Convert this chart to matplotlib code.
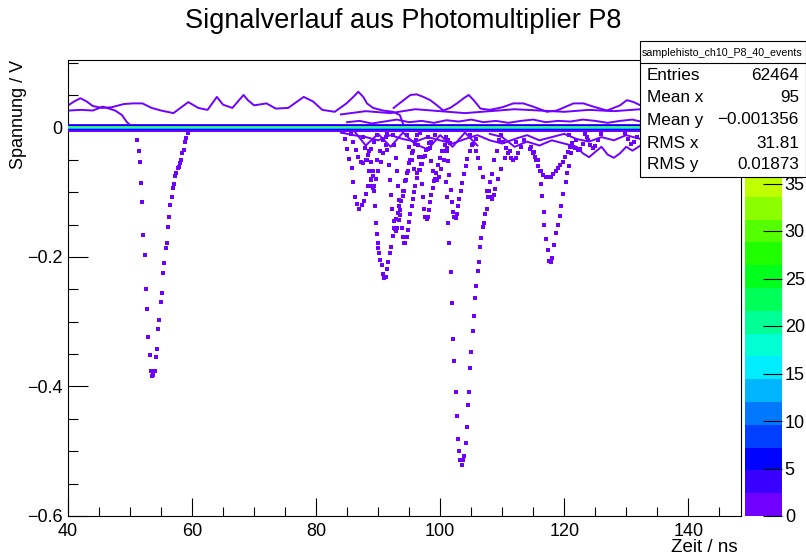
import matplotlib
matplotlib.use("Agg")
import matplotlib.pyplot as plt
import numpy as np
from matplotlib.colors import LinearSegmentedColormap, ListedColormap, BoundaryNorm
from matplotlib.patches import Rectangle
from matplotlib.lines import Line2D
import matplotlib.cm as cm

plt.rcParams['font.family'] = ['Liberation Sans', 'DejaVu Sans']

# ---------------- data ----------------
title = "Signalverlauf aus Photomultiplier P8"
x_label = "Zeit / ns"
y_label = "Spannung / V"
x_range = (40.0, 148.5)
y_range = (-0.6, 0.104)
x_major = [40, 60, 80, 100, 120, 140]
x_major_labels = ["40", "60", "80", "100", "120", "140"]
y_major = [-0.6, -0.4, -0.2, 0.0]
y_major_labels = ["\u22120.6", "\u22120.4", "\u22120.2", "0"]
z_max = 48.0
n_levels = 20
z_ticks = [0, 5, 10, 15, 20, 25, 30, 35]

stats_name = "samplehisto_ch10_P8_40_events"
stats_keys = ["Entries", "Mean x", "Mean y", "RMS x", "RMS y"]
stats_vals = ["62464", "95", "\u22120.001356", "31.81", "0.01873"]

# baseline band (counts per voltage bin, bottom -> top)
baseline_edges = [-0.0064, -0.0048, -0.0032, -0.0016, 0.0, 0.0016, 0.0032, 0.0048]
baseline_counts = [2, 6, 12, 30, 15, 6, 2]

# positive wiggles (single-event traces)
u0_t = [40.2, 42.0, 44.0, 45.6, 47.6, 48.7, 49.5, 50.2]
u0_v = [0.026, 0.027, 0.026, 0.032, 0.026, 0.019, 0.008, 0.002]

u1_t = [40.2, 41.0, 42.0, 43.0, 44.0, 45.5, 47.0, 49.0, 50.5, 52.0, 53.5, 55.0, 57.0,
        59.4, 61.0, 62.5, 64.0, 65.0, 66.5, 68.3, 69.0, 70.0, 72.0, 73.5, 75.5, 78.0,
        79.5, 81.0, 83.0, 84.9, 86.0, 86.8, 87.6, 88.2, 89.2, 90.8, 92.4, 93.5, 94.0]
u1_v = [0.035, 0.040, 0.045, 0.040, 0.033, 0.030, 0.031, 0.036, 0.037, 0.037, 0.030,
        0.026, 0.022, 0.039, 0.030, 0.027, 0.047, 0.035, 0.030, 0.050, 0.042, 0.034,
        0.037, 0.029, 0.030, 0.047, 0.040, 0.027, 0.024, 0.037, 0.047, 0.055, 0.047,
        0.037, 0.030, 0.026, 0.024, 0.019, 0.006]

u3_t = [92.5, 94.1, 95.2, 96.2, 97.3, 98.4, 99.5, 100.5, 101.6, 102.7, 103.8, 104.6,
        105.4, 106.5, 108.0, 110.0, 111.8, 113.4, 115.0, 117.2, 118.8, 121.5, 123.1,
        124.7, 126.9, 129.0, 130.1, 131.2, 132.3]
u3_v = [0.030, 0.042, 0.050, 0.051, 0.047, 0.042, 0.034, 0.026, 0.030, 0.037, 0.045,
        0.050, 0.042, 0.029, 0.027, 0.031, 0.037, 0.037, 0.032, 0.024, 0.026, 0.037,
        0.037, 0.032, 0.026, 0.034, 0.042, 0.039, 0.034]

u2_t = [84.0, 88.0, 92.0, 96.0, 100.0, 104.0, 108.0, 112.0, 116.0, 120.0, 124.0, 128.0, 132.3]
u2_v = [0.020, 0.025, 0.022, 0.028, 0.025, 0.022, 0.025, 0.028, 0.026, 0.024, 0.027, 0.025, 0.028]

# near-baseline clutter traces
n1_t = [84, 86, 88, 90, 92, 94, 96, 98, 100, 102, 104, 106, 108, 110, 112, 114, 116,
        118, 120, 122, 124, 126, 128, 130, 132.3]
n1_v = [-0.008, -0.012, -0.015, -0.020, -0.012, -0.018, -0.022, -0.015, -0.020,
        -0.025, -0.018, -0.012, -0.020, -0.025, -0.018, -0.012, -0.020, -0.015,
        -0.010, -0.018, -0.022, -0.015, -0.020, -0.012, -0.018]
n2_t = [85, 87, 89, 91, 93, 95, 97, 99, 101, 103, 105, 107, 109, 111, 113, 115, 117,
        119, 121, 123, 125, 127, 129, 131, 132.3]
n2_v = [0.008, 0.010, 0.006, 0.009, 0.012, 0.008, 0.010, 0.007, 0.011, 0.009, 0.012,
        0.008, 0.010, 0.007, 0.010, 0.012, 0.008, 0.010, 0.009, 0.012, 0.010, 0.007,
        0.010, 0.012, 0.009]
n3_t = [108, 110, 112, 114, 116, 118, 120, 122, 123, 124, 125, 126, 127, 128, 129, 130, 131, 132.3]
n3_v = [-0.010, -0.015, -0.030, -0.022, -0.028, -0.020, -0.025, -0.030, -0.040, -0.046,
        -0.038, -0.030, -0.042, -0.047, -0.040, -0.030, -0.036, -0.028]
n4_t = [86, 88, 90, 92, 94, 96, 98, 100, 102, 104, 106]
n4_v = [-0.004, -0.028, -0.010, -0.030, -0.008, -0.026, -0.034, -0.012, -0.030, -0.008, -0.028]

# pulses (one dot per occupied bin)
pa_t = [50.81, 51.18, 51.40, 51.61, 51.77, 51.98, 52.15, 52.37, 52.58, 52.79, 52.95,
        53.18, 53.34, 53.55, 53.71, 53.98, 54.15, 54.35, 54.52, 54.73, 54.95, 55.11,
        55.32, 55.53, 55.76, 55.92, 56.13, 56.29, 56.50, 56.73, 56.89, 57.10, 57.31,
        57.47, 57.69, 57.85, 58.06, 58.23, 58.44, 58.66, 58.87, 59.08, 59.35]
pa_v = [-0.003, -0.019, -0.037, -0.053, -0.086, -0.116, -0.166, -0.197, -0.249,
        -0.281, -0.323, -0.352, -0.376, -0.384, -0.382, -0.376, -0.354, -0.342,
        -0.311, -0.298, -0.269, -0.255, -0.225, -0.210, -0.186, -0.178, -0.154,
        -0.138, -0.120, -0.108, -0.093, -0.088, -0.075, -0.071, -0.063, -0.061,
        -0.055, -0.051, -0.039, -0.035, -0.023, -0.016, -0.008]

pb_t = [100.65, 100.97, 101.08, 101.34, 101.50, 101.73, 101.94, 102.10, 102.31, 102.53,
        102.74, 102.90, 103.11, 103.27, 103.50, 103.71, 103.92, 104.15, 104.31, 104.52,
        104.68, 104.89, 105.05, 105.27, 105.48, 105.69, 105.85, 106.08, 106.29, 106.50,
        106.66, 106.89, 107.10, 107.26, 107.47, 107.69, 107.85, 108.10, 108.34, 108.71,
        109.15, 109.56]
pb_v = [-0.036, -0.084, -0.107, -0.148, -0.178, -0.224, -0.271, -0.326, -0.360, -0.409,
        -0.445, -0.481, -0.499, -0.513, -0.522, -0.513, -0.507, -0.487, -0.462, -0.429,
        -0.409, -0.372, -0.347, -0.314, -0.291, -0.263, -0.245, -0.221, -0.208, -0.185,
        -0.171, -0.154, -0.148, -0.134, -0.126, -0.108, -0.098, -0.085, -0.072, -0.051,
        -0.036, -0.020]

pc_t = [114.52, 115.05, 115.32, 115.76, 116.02, 116.29, 116.40, 116.66, 116.82, 117.10,
        117.31, 117.53, 117.79, 118.11, 118.39, 118.71, 118.92, 119.24, 119.52, 119.84,
        120.21, 120.44, 120.76, 121.08, 121.40, 121.94]
pc_v = [-0.033, -0.038, -0.045, -0.051, -0.067, -0.088, -0.106, -0.130, -0.150, -0.172,
        -0.190, -0.206, -0.208, -0.202, -0.182, -0.163, -0.150, -0.137, -0.122, -0.103,
        -0.085, -0.071, -0.059, -0.040, -0.031, -0.020]

d1_t = [84.40, 84.68, 85.05, 85.37, 85.76, 85.92, 86.29, 86.56, 86.98, 87.37, 87.74,
        88.06, 88.44, 88.82, 89.24, 89.79, 90.32, 90.85, 91.40]
d1_v = [-0.007, -0.018, -0.033, -0.049, -0.062, -0.085, -0.108, -0.119, -0.126, -0.120,
        -0.114, -0.103, -0.090, -0.080, -0.067, -0.051, -0.036, -0.020, -0.010]

d2_t = [88.55, 88.87, 89.11, 89.35, 89.52, 89.63, 89.79, 89.95, 90.05, 90.21, 90.32,
        90.60, 90.76, 90.97, 91.29, 91.50, 91.66, 91.94, 92.10, 92.37, 92.63, 92.90,
        93.18, 93.44, 93.71, 93.98, 94.19, 94.52, 94.84, 95.16, 95.65, 96.13, 96.77]
d2_v = [-0.036, -0.054, -0.075, -0.098, -0.121, -0.147, -0.165, -0.178, -0.186, -0.194,
        -0.204, -0.212, -0.227, -0.233, -0.231, -0.218, -0.208, -0.194, -0.184, -0.168,
        -0.155, -0.142, -0.132, -0.121, -0.114, -0.106, -0.098, -0.082, -0.067, -0.051,
        -0.036, -0.020, -0.009]

d3_t = [92.4, 92.6, 92.8, 93.0, 93.2, 93.4, 93.6, 93.8, 94.0, 94.2, 94.4, 94.6, 94.8,
        95.0, 95.2, 95.4, 95.6, 95.8, 96.0, 96.3, 96.6, 96.9, 97.3, 97.7, 98.2]
d3_v = [-0.012, -0.028, -0.047, -0.068, -0.090, -0.112, -0.135, -0.155, -0.170, -0.179,
        -0.178, -0.170, -0.158, -0.146, -0.133, -0.121, -0.110, -0.100, -0.090, -0.078,
        -0.066, -0.056, -0.045, -0.035, -0.024]

d4_t = [96.2, 96.4, 96.6, 96.8, 97.0, 97.2, 97.4, 97.6, 97.8, 98.0, 98.2, 98.4, 98.6,
        98.8, 99.0, 99.3, 99.6, 99.9, 100.3, 100.7, 101.2]
d4_v = [-0.012, -0.028, -0.046, -0.066, -0.087, -0.108, -0.126, -0.138, -0.142, -0.139,
        -0.128, -0.116, -0.104, -0.093, -0.083, -0.070, -0.058, -0.048, -0.037, -0.028,
        -0.019]

d5_t = [100.9, 101.1, 101.3, 101.5, 101.7, 101.9, 102.1, 102.3, 102.5, 102.7, 102.9,
        103.1, 103.3, 103.5, 103.8, 104.1, 104.4, 104.8, 105.2, 105.7]
d5_v = [-0.015, -0.032, -0.052, -0.074, -0.096, -0.116, -0.131, -0.139, -0.140, -0.134,
        -0.122, -0.110, -0.098, -0.086, -0.072, -0.060, -0.049, -0.037, -0.027, -0.018]

d7_t = [87.6, 87.9, 88.2, 88.5, 88.8, 89.0, 89.2, 89.4, 89.7, 90.0, 90.4, 90.8, 91.3]
d7_v = [-0.015, -0.032, -0.050, -0.068, -0.082, -0.090, -0.093, -0.090, -0.080, -0.068,
        -0.054, -0.040, -0.027]

d8_t = [98.0, 98.3, 98.6, 98.9, 99.2, 99.5, 99.8, 100.2, 100.6, 101.1, 101.6]
d8_v = [-0.015, -0.032, -0.052, -0.068, -0.079, -0.082, -0.077, -0.064, -0.050, -0.036,
        -0.024]

e_t = [114.6, 115.0, 115.4, 115.8, 116.2, 116.6, 117.0, 117.4, 117.8, 118.2, 118.6,
       119.0, 119.4, 119.8, 120.2, 120.6, 121.0]
e_v = [-0.030, -0.040, -0.051, -0.060, -0.068, -0.073, -0.076, -0.077, -0.076, -0.072,
       -0.067, -0.062, -0.058, -0.053, -0.046, -0.038, -0.030]

d9_t = [109.8, 110.2, 110.6, 111.0, 111.4, 111.8, 112.2, 112.6, 113.0, 113.5]
d9_v = [-0.012, -0.022, -0.032, -0.040, -0.047, -0.050, -0.047, -0.040, -0.030, -0.020]

d10_t = [91.3, 91.5, 91.7, 91.9, 92.1, 92.3, 92.5, 92.7, 92.9, 93.1, 93.3, 93.5, 93.7,
         94.0, 94.3, 94.6, 95.0, 95.4, 95.9]
d10_v = [-0.015, -0.035, -0.058, -0.082, -0.105, -0.126, -0.145, -0.157, -0.160, -0.155,
         -0.143, -0.128, -0.114, -0.098, -0.083, -0.070, -0.055, -0.040, -0.025]

d11_t = [85.6, 86.0, 86.4, 86.8, 87.2, 87.6, 88.0, 88.4, 88.8, 89.3, 89.8]
d11_v = [-0.010, -0.022, -0.035, -0.046, -0.053, -0.055, -0.050, -0.042, -0.033, -0.022, -0.012]

d12_t = [94.6, 95.0, 95.4, 95.8, 96.2, 96.6, 97.0, 97.5, 98.0, 98.6, 99.2]
d12_v = [-0.012, -0.030, -0.050, -0.064, -0.070, -0.066, -0.056, -0.044, -0.033, -0.022, -0.012]

d13_t = [104.8, 105.3, 105.8, 106.1, 106.45, 106.98, 107.5, 108.06, 108.3, 108.6, 108.9,
         109.35, 109.8, 110.5, 111.3, 112.3]
d13_v = [-0.012, -0.025, -0.036, -0.048, -0.062, -0.077, -0.098, -0.108, -0.111, -0.105,
         -0.095, -0.079, -0.064, -0.048, -0.036, -0.023]

d14_t = [120.8, 121.3, 121.8, 122.2, 122.6, 123.1, 123.6]
d14_v = [-0.012, -0.024, -0.032, -0.035, -0.033, -0.025, -0.015]
d15_t = [123.3, 123.8, 124.2, 124.6, 125.0, 125.5, 126.0]
d15_v = [-0.010, -0.020, -0.028, -0.032, -0.029, -0.020, -0.010]
d16_t = [129.8, 130.3, 130.8, 131.3, 131.8]
d16_v = [-0.008, -0.018, -0.025, -0.023, -0.015]

# ---------------- style / layout ----------------
W, H = 806, 556
fig = plt.figure(figsize=(W / 100, H / 100), dpi=100)


def fx(px):
    return px / W


def fy(py):
    return 1 - py / H


anchors = [(0.0, '#7000ff'), (0.10, '#0000ff'), (0.33, '#00ffff'),
           (0.55, '#00ff00'), (0.80, '#ffff00'), (1.0, '#ff0000')]
base_cmap = LinearSegmentedColormap.from_list('rootpal', anchors)
level_colors = [base_cmap(i / (n_levels - 1)) for i in range(n_levels)]
pal = ListedColormap(level_colors)
bounds = np.linspace(0, z_max, n_levels + 1)
norm = BoundaryNorm(bounds, n_levels)
c1 = level_colors[0]

ax = fig.add_axes([fx(68), fy(516), fx(741) - fx(68), fy(60) - fy(516)])
ax.set_xlim(*x_range)
ax.set_ylim(*y_range)

line_traces = [(u0_t, u0_v), (u1_t, u1_v), (u3_t, u3_v), (u2_t, u2_v),
               (n1_t, n1_v), (n2_t, n2_v), (n3_t, n3_v), (n4_t, n4_v)]
for t, v in line_traces:
    ax.plot(t, v, color=c1, lw=1.4, solid_joinstyle='round', zorder=2)

dot_traces = [(pa_t, pa_v), (pb_t, pb_v), (pc_t, pc_v), (d1_t, d1_v), (d2_t, d2_v),
              (d3_t, d3_v), (d4_t, d4_v), (d5_t, d5_v), (d7_t, d7_v), (d8_t, d8_v),
              (e_t, e_v), (d9_t, d9_v), (d10_t, d10_v), (d11_t, d11_v), (d12_t, d12_v),
              (d13_t, d13_v), (d14_t, d14_v), (d15_t, d15_v), (d16_t, d16_v)]
for t, v in dot_traces:
    ax.plot(t, v, ls='none', marker='s', ms=2.3, mew=0, color=c1, zorder=2)

bx = np.array([x_range[0], x_range[1]])
by = np.array(baseline_edges)
bc = np.array(baseline_counts, dtype=float)[:, None]
ax.pcolormesh(bx, by, bc, cmap=pal, norm=norm, zorder=3)

ax.set_xticks(x_major)
ax.set_xticklabels(x_major_labels)
ax.set_xticks(np.arange(40, 148.5, 5), minor=True)
ax.set_yticks(y_major)
ax.set_yticklabels(y_major_labels)
ax.set_yticks(np.arange(-0.6, 0.104, 0.05), minor=True)
ax.tick_params(axis='x', which='major', direction='in', length=13, width=0.8, labelsize=13, pad=5)
ax.tick_params(axis='x', which='minor', direction='in', length=6.5, width=0.8)
ax.tick_params(axis='y', which='major', direction='in', length=14.4, width=0.8, labelsize=13, pad=4)
ax.tick_params(axis='y', which='minor', direction='in', length=7.2, width=0.8)
for s in ax.spines.values():
    s.set_linewidth(0.8)

fig.text(fx(738), fy(548), x_label, ha='right', va='center', fontsize=13.5)
fig.text(fx(19), fy(60), y_label, ha='center', va='top', rotation=90, fontsize=13)
fig.text(0.5, fy(21), title, ha='center', va='center', fontsize=19.5)

# colour scale
cax = fig.add_axes([fx(745), fy(516), fx(782) - fx(745), fy(60) - fy(516)])
sm = cm.ScalarMappable(norm=norm, cmap=pal)
cb = fig.colorbar(sm, cax=cax, ticks=z_ticks)
cb.outline.set_visible(False)
cax.set_ylim(0, z_max)
cax.minorticks_off()
cax.tick_params(direction='in', length=13.7, width=0.8, labelsize=13, pad=2, color='black')

# statistics box
fig.add_artist(Rectangle((fx(640), fy(177)), fx(806) - fx(640), fy(41) - fy(177),
                         transform=fig.transFigure, facecolor='white', edgecolor='black',
                         lw=0.8, zorder=10))
fig.add_artist(Line2D([fx(640), fx(806)], [fy(63), fy(63)], transform=fig.transFigure,
                      color='black', lw=0.8, zorder=11))
fig.text(fx(722), fy(52.5), stats_name, ha='center', va='center', fontsize=7.7, zorder=12)
row_y = [75, 98, 120, 143, 165]
for k, val, yy in zip(stats_keys, stats_vals, row_y):
    fig.text(fx(647), fy(yy), k, ha='left', va='center', fontsize=12.3, zorder=12)
    fig.text(fx(799), fy(yy), val, ha='right', va='center', fontsize=12.3, zorder=12)

fig.savefig("out.png", dpi=100)
